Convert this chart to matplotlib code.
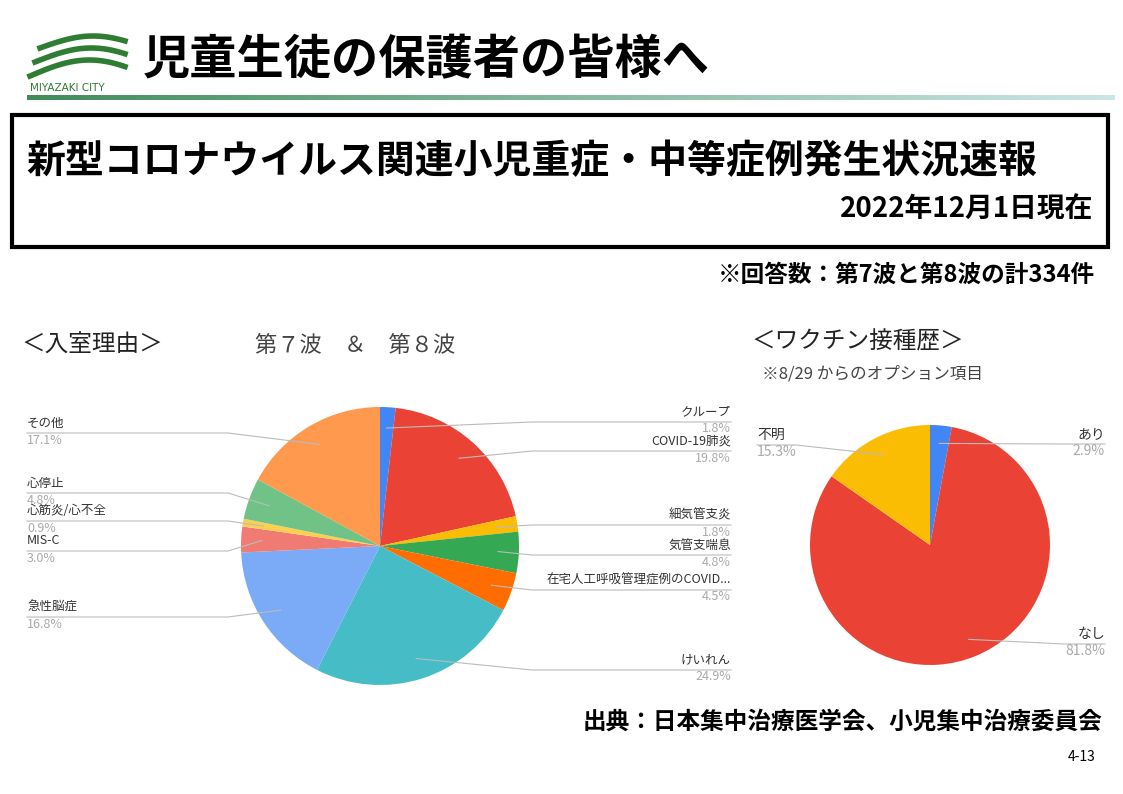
import matplotlib
matplotlib.use("Agg")
import matplotlib.pyplot as plt
import numpy as np
from matplotlib.patches import Rectangle

plt.rcParams["font.family"] = "Noto Sans CJK JP"

left_labels = ["クループ", "COVID-19肺炎", "細気管支炎", "気管支喘息", "在宅人工呼吸管理症例のCOVID...",
               "けいれん", "急性脳症", "MIS-C", "心筋炎/心不全", "心停止", "その他"]
left_values = [1.8, 19.8, 1.8, 4.8, 4.5, 24.9, 16.8, 3.0, 0.9, 4.8, 17.1]
left_colors = ["#4285F4", "#EA4335", "#FBBC04", "#34A853", "#FF6D01", "#46BDC6",
               "#7BAAF7", "#F07B72", "#FCD04F", "#71C287", "#FF994D"]
left_label_y = [412, 441, 515, 545, 580, 660, 607, 541, 511, 483, 423]
left_label_side = ["R", "R", "R", "R", "R", "R", "L", "L", "L", "L", "L"]

right_labels = ["あり", "なし", "不明"]
right_values = [2.9, 81.8, 15.3]
right_colors = ["#4285F4", "#EA4335", "#FBBC04"]
right_label_y = [434, 634, 435]
right_label_side = ["R", "R", "L"]

W, H = 1123, 794
fig = plt.figure(figsize=(W/100, H/100), dpi=100)
ov = fig.add_axes([0, 0, 1, 1])
ov.set_xlim(0, W); ov.set_ylim(H, 0); ov.axis("off")

def add_pie(cx, cy, r, values, colors):
    ax = fig.add_axes([(cx-r)/W, 1-(cy+r)/H, 2*r/W, 2*r/H])
    wedges, _ = ax.pie(values, colors=colors, startangle=90, counterclock=False,
                       wedgeprops=dict(linewidth=0))
    ax.set_aspect("equal"); ax.set_xlim(-1, 1); ax.set_ylim(-1, 1)
    ax.set_zorder(0)
    return wedges

def labels(wedges, cx, cy, r, names, vals, ys, sides, xl, xr, fs=9):
    for w, n, v, y, s in zip(wedges, names, vals, ys, sides):
        th = np.deg2rad((w.theta1 + w.theta2) / 2)
        px, py = cx + 0.85*r*np.cos(th), cy - 0.85*r*np.sin(th)
        ly = y + 10
        if s == "R":
            ov.text(xr, y, n, ha="right", va="center", fontsize=fs, color="#333333")
            ov.text(xr, y+17, f"{v:.1f}%", ha="right", va="center", fontsize=fs, color="#aaaaaa")
            elbow = max(px, cx + r*0.95) + 20
            ov.plot([px, elbow, xr], [py, ly, ly], color="#bbbbbb", lw=0.8)
        else:
            ov.text(xl, y, n, ha="left", va="center", fontsize=fs, color="#333333")
            ov.text(xl, y+17, f"{v:.1f}%", ha="left", va="center", fontsize=fs, color="#aaaaaa")
            elbow = min(px, cx - r*0.95) - 20
            ov.plot([xl, elbow, px], [ly, ly, py], color="#bbbbbb", lw=0.8)

wl = add_pie(380, 546, 139, left_values, left_colors)
labels(wl, 380, 546, 139, left_labels, left_values, left_label_y, left_label_side, 27, 731)
wr = add_pie(930, 545, 120, right_values, right_colors)
labels(wr, 930, 545, 120, right_labels, right_values, right_label_y, right_label_side, 757, 1105, fs=10)

# header
for i, x0 in enumerate(np.linspace(27, 1115, 200)[:-1]):
    t = i / 199
    ov.add_patch(Rectangle((x0, 95), 1088/199+0.5, 5, color=(0.25+0.55*t, 0.55+0.35*t, 0.35+0.55*t), lw=0))
th = np.linspace(0, 1, 50)
ov.plot(40+85*th, 48-12*np.sin(np.pi*th*0.8), color="#2e7d32", lw=4)
ov.plot(35+90*th, 62-14*np.sin(np.pi*th*0.8), color="#2e7d32", lw=4)
ov.plot(30+95*th, 76-16*np.sin(np.pi*th*0.8), color="#2e7d32", lw=4)
ov.text(30, 88, "MIYAZAKI CITY", fontsize=7.5, color="#2e7d32", va="center", fontfamily="DejaVu Sans")
ov.text(143, 60, "児童生徒の保護者の皆様へ", fontsize=34, fontweight="bold", va="center")

ov.add_patch(Rectangle((12, 115), 1096, 132, fill=False, lw=3, ec="black"))
ov.text(26, 162, "新型コロナウイルス関連小児重症・中等症例発生状況速報", fontsize=28, fontweight="bold", va="center")
ov.text(1093, 210, "2022年12月1日現在", fontsize=20, fontweight="bold", va="center", ha="right")
ov.text(1095, 275, "※回答数：第7波と第8波の計334件", fontsize=17, fontweight="bold", va="center", ha="right")

ov.text(22, 345, "＜入室理由＞", fontsize=17, va="center", color="#222222")
ov.text(255, 345, "第７波　＆　第８波", fontsize=16, va="center", color="#444444")
ov.text(752, 342, "＜ワクチン接種歴＞", fontsize=17, va="center", color="#222222")
ov.text(762, 374, "※8/29 からのオプション項目", fontsize=12, va="center", color="#444444")

ov.text(1102, 722, "出典：日本集中治療医学会、小児集中治療委員会", fontsize=17, fontweight="bold", va="center", ha="right")
ov.text(1095, 757, "4-13", fontsize=10, va="center", ha="right")
ov.set_zorder(1); ov.patch.set_alpha(0)

fig.savefig("out.png", dpi=100)
